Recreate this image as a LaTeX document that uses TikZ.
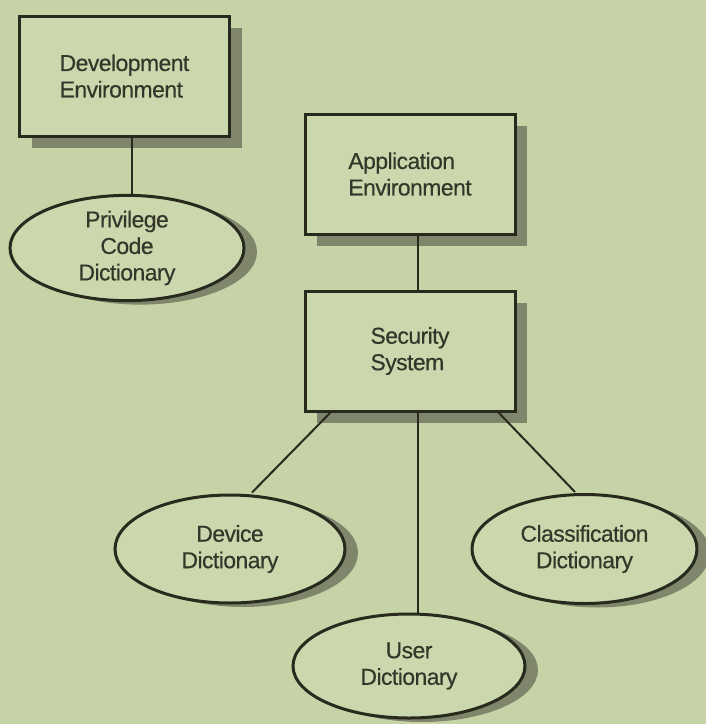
\documentclass[tikz,border=0pt]{standalone}
\usepackage{fontspec}
\setmainfont[LetterSpace=-2.5,FakeBold=0.4]{Liberation Sans}
\usetikzlibrary{shapes.geometric,shadows,calc}
\definecolor{bgc}{RGB}{198,211,166}
\definecolor{fillc}{RGB}{203,216,173}
\definecolor{shadc}{RGB}{128,134,108}
\definecolor{linec}{RGB}{40,42,30}
\definecolor{textc}{RGB}{52,54,42}
\begin{document}
\begin{tikzpicture}[x=1pt,y=-1pt,
  box/.style={rectangle, draw=linec, line width=3pt, fill=fillc,
    minimum width=210pt, minimum height=120pt, inner sep=0pt,
    text=textc, font=\fontsize{23}{26.5}\selectfont, align=left,
    drop shadow={shadow xshift=12pt, shadow yshift=-12pt, fill=shadc, opacity=1}},
  dict/.style={ellipse, draw=linec, line width=3pt, fill=fillc,
    inner sep=0pt, text=textc, font=\fontsize{23}{26.5}\selectfont, align=center,
    drop shadow={shadow xshift=13pt, shadow yshift=-4pt, fill=shadc, opacity=1}},
  link/.style={draw=linec, line width=2pt}]
\useasboundingbox (0,0) rectangle (706,724);
\fill[bgc] (0,0) rectangle (706,724);

\node[box] (dev) at (124.5,76) {Development\\Environment};
\node[dict, minimum width=234pt, minimum height=104pt] (priv) at (127,248) {Privilege\\Code\\Dictionary};
\node[box] (app) at (410,174) {Application\\Environment};
\node[box] (sec) at (410,351) {Security\\System};
\node[dict, minimum width=230pt, minimum height=108pt] (device) at (230,549) {Device\\Dictionary};
\node[dict, minimum width=225pt, minimum height=109pt] (class) at (584.5,549) {Classification\\Dictionary};
\node[dict, minimum width=232pt, minimum height=104pt] (user) at (409,666) {User\\Dictionary};

\path[link] ([xshift=7.5pt]dev.south) -- ([xshift=7.5pt]dev.south |- priv.north);
\path[link] ([xshift=8pt]app.south) -- ([xshift=8pt]sec.north);
\path[link] ([xshift=27pt]sec.south west) -- ([xshift=22pt,yshift=1pt]device.north);
\path[link] ([xshift=8pt]sec.south) -- ([xshift=8pt]sec.south |- user.north);
\path[link] ([xshift=-18pt]sec.south east) -- ([xshift=-9.5pt,yshift=1pt]class.north);
\end{tikzpicture}
\end{document}
